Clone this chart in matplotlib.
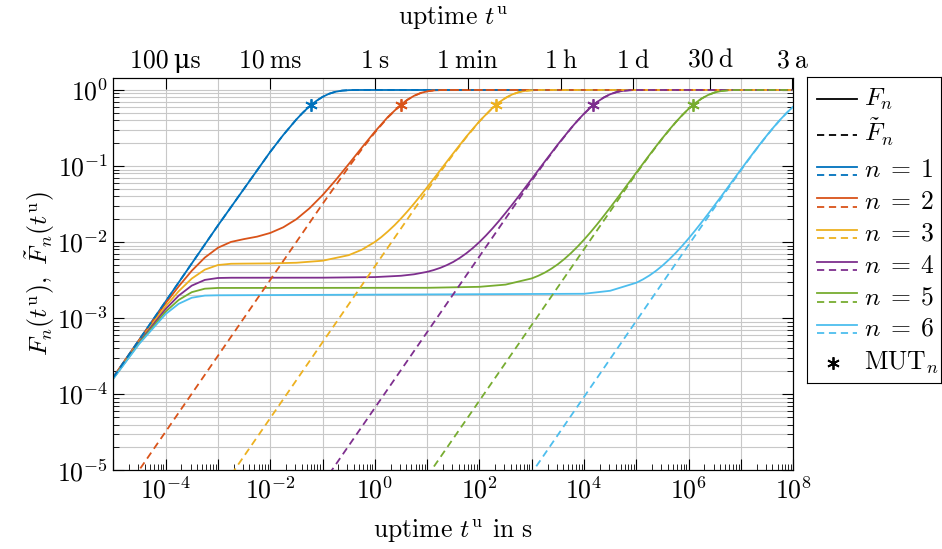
import numpy as np
import matplotlib
matplotlib.use("Agg")
import matplotlib.pyplot as plt
from matplotlib.lines import Line2D
from matplotlib.ticker import LogLocator, NullFormatter, NullLocator

plt.rcParams['font.family'] = ['cmr10', 'DejaVu Serif']
plt.rcParams['mathtext.fontset'] = 'cm'
plt.rcParams['axes.formatter.use_mathtext'] = True
plt.rcParams['font.size'] = 18.5

# colours of n = 1..6
colors = ['#0072BD', '#D95319', '#EDB120', '#7E2F8E', '#77AC30', '#4DBEEE']

# F_n (solid)
t_f1 = [1e-5, 1e-3, 1e-2, 1.78e-2, 3.16e-2, 4.2e-2, 5.62e-2, 7.5e-2, 0.1, 0.133, 0.178, 0.237, 0.316,
        0.42, 0.562, 1.0, 1e8]
f1 = [1.667e-4, 0.01653, 0.1535, 0.2567, 0.4096, 0.5034, 0.6082, 0.7135, 0.8111, 0.8911, 0.9486, 0.9807,
      0.99486, 0.99909, 0.99991, 1.0, 1.0]

t_f2 = [1e-5, 3.16e-5, 1e-4, 1.78e-4, 3.16e-4, 5.62e-4, 1e-3, 1.78e-3, 3.16e-3, 5.62e-3, 1e-2,
        1.78e-2, 3.16e-2, 5.62e-2, 0.1, 0.178, 0.316, 0.562, 1.0, 1.78, 3.16, 4.2, 5.62, 7.5, 10, 13.3,
        17.8, 23.7, 31.6, 1e8]
f2 = [1.685e-4, 5.23e-4, 1.567e-3, 2.62e-3, 4.20e-3, 6.26e-3, 8.43e-3, 0.01006, 0.01096, 0.01180, 0.01319,
      0.01567, 0.0200, 0.0278, 0.0414, 0.0652, 0.1059, 0.1741, 0.2829, 0.4424, 0.6426, 0.7446, 0.8384,
      0.9119, 0.9607, 0.98644, 0.99682, 0.99952, 0.99996, 1.0]

t_f3 = [1e-5, 3.16e-5, 1e-4, 1.78e-4, 3.16e-4, 5.62e-4, 1e-3, 1.78e-3, 3.16e-3, 1e-2, 3.16e-2, 0.1,
        0.316, 0.562, 1.0, 1.33, 1.78, 2.37, 3.16, 4.22, 5.62, 7.5, 10, 17.8, 31.6, 56.2, 100, 178, 237,
        316, 420, 562, 750, 1000, 1330, 1780, 3160, 1e8]
f3 = [1.640e-4, 5.01e-4, 1.426e-3, 2.262e-3, 3.314e-3, 4.344e-3, 4.994e-3, 5.192e-3, 5.215e-3, 5.249e-3,
      5.354e-3, 5.69e-3, 6.73e-3, 7.93e-3, 0.01004, 0.01164, 0.01383, 0.01663, 0.0204, 0.02547, 0.0321,
      0.04094, 0.0526, 0.0880, 0.1473, 0.2438, 0.389, 0.5825, 0.6869, 0.787, 0.8718, 0.9358, 0.9743,
      0.9924, 0.99848, 0.99983, 1.0, 1.0]

t_f4 = [1e-5, 3.16e-5, 1e-4, 1.78e-4, 3.16e-4, 5.62e-4, 1e-3, 1.78e-3, 0.1, 1.0, 3.16, 5.62, 10, 13.3,
        17.8, 23.7, 31.6, 42.2, 56.2, 75, 100, 133, 178, 237, 316, 420, 562, 1000, 1780, 3160, 5620, 7500,
        1e4, 1.33e4, 1.78e4, 2.37e4, 3.16e4, 4.22e4, 5.62e4, 7.5e4, 1e5, 1.78e5, 1e8]
f4 = [1.626e-4, 4.87e-4, 1.317e-3, 1.979e-3, 2.678e-3, 3.184e-3, 3.375e-3, 3.40e-3, 3.407e-3, 3.467e-3,
      3.61e-3, 3.774e-3, 4.065e-3, 4.287e-3, 4.583e-3, 4.977e-3, 5.49e-3, 6.204e-3, 7.13e-3, 8.371e-3,
      0.01002, 0.01220, 0.01516, 0.01903, 0.0242, 0.03092, 0.0401, 0.0677, 0.1149, 0.1928, 0.3149,
      0.3956, 0.4883, 0.5894, 0.6958, 0.7947, 0.8788, 0.9402, 0.9765, 0.99328, 0.99873, 1.0, 1.0]

t_f5 = [1e-5, 3.16e-5, 1e-4, 1.78e-4, 3.16e-4, 5.62e-4, 1e-3, 10, 100, 316, 1000, 1330, 1780, 2370, 3160,
        4220, 5620, 7500, 1e4, 1.33e4, 1.78e4, 2.37e4, 3.16e4, 4.22e4, 5.62e4, 7.5e4, 1e5, 1.33e5, 1.78e5,
        2.37e5, 3.16e5, 4.22e5, 5.62e5, 7.5e5, 1e6, 1.33e6, 1.78e6, 2.37e6, 3.16e6, 4.22e6, 5.62e6, 7.5e6,
        1e7, 1.78e7, 1e8]
f5 = [1.613e-4, 4.75e-4, 1.217e-3, 1.737e-3, 2.196e-3, 2.441e-3, 2.497e-3, 2.508e-3, 2.583e-3, 2.762e-3,
      3.331e-3, 3.605e-3, 3.976e-3, 4.470e-3, 5.123e-3, 6.008e-3, 7.17e-3, 8.715e-3, 0.01078, 0.01349,
      0.01718, 0.02201, 0.02842, 0.03697, 0.0482, 0.06294, 0.0823, 0.1071, 0.1401, 0.1813, 0.2335, 0.2983,
      0.3756, 0.4660, 0.5665, 0.6711, 0.7737, 0.8615, 0.9284, 0.9704, 0.99077, 0.99807, 0.99976, 1.0, 1.0]

t_f6 = [1e-5, 3.16e-5, 1e-4, 1.78e-4, 3.16e-4, 5.62e-4, 1e-3, 1e4, 3.16e4, 1e5, 1.33e5, 1.78e5, 2.37e5,
        3.16e5, 4.22e5, 5.62e5, 7.5e5, 1e6, 1.33e6, 1.78e6, 2.37e6, 3.16e6, 4.22e6, 5.62e6, 7.5e6, 1e7,
        1.33e7, 1.78e7, 2.37e7, 3.16e7, 4.22e7, 5.62e7, 7.5e7, 1e8]
f6 = [1.600e-4, 4.63e-4, 1.131e-3, 1.546e-3, 1.856e-3, 1.982e-3, 2.0e-3, 2.093e-3, 2.292e-3, 2.924e-3,
      3.229e-3, 3.645e-3, 4.19e-3, 4.916e-3, 5.90e-3, 7.18e-3, 8.91e-3, 0.01120, 0.01422, 0.01831,
      0.02366, 0.03078, 0.04024, 0.05261, 0.06896, 0.0903, 0.1176, 0.1536, 0.1986, 0.2552, 0.3248,
      0.4069, 0.5017, 0.6047]

# F~_n (dashed); F~_1 equals F_1
t_ft2 = [1e-5, 0.1, 0.316, 0.562, 1.0, 1.78, 3.16, 4.2, 5.62, 7.5, 10, 13.3, 17.8, 23.7, 31.6, 1e8]
ft2 = [3.23e-6, 0.0317, 0.0969, 0.1658, 0.2757, 0.4368, 0.639, 0.742, 0.8368, 0.9110, 0.9603, 0.9863,
       0.99679, 0.99952, 0.99996, 1.0]
t_ft3 = [1e-3, 10, 17.8, 31.6, 56.2, 100, 178, 237, 316, 420, 562, 750, 1000, 1330, 1780, 3160, 1e8]
ft3 = [4.88e-6, 0.0476, 0.0832, 0.1428, 0.2398, 0.386, 0.5803, 0.6853, 0.786, 0.8711, 0.9355, 0.9742,
       0.9924, 0.99848, 0.99983, 1.0, 1.0]
t_ft4 = [0.1, 1000, 1780, 3160, 5620, 7500, 1e4, 1.33e4, 1.78e4, 2.37e4, 3.16e4, 4.22e4, 5.62e4, 7.5e4,
         1e5, 1.78e5, 1e8]
ft4 = [6.67e-6, 0.0645, 0.1119, 0.1900, 0.3126, 0.3935, 0.4866, 0.5880, 0.6948, 0.7940, 0.8784, 0.9400,
       0.9764, 0.99326, 0.99873, 1.0, 1.0]
t_ft5 = [10, 1e5, 1.78e5, 3.16e5, 5.62e5, 7.5e5, 1e6, 1.33e6, 1.78e6, 2.37e6, 3.16e6, 4.22e6, 5.62e6,
         7.5e6, 1e7, 1.78e7, 1e8]
ft5 = [8.33e-6, 0.0800, 0.1379, 0.2316, 0.3740, 0.4647, 0.5654, 0.6703, 0.7731, 0.8612, 0.9282, 0.9703,
       0.99075, 0.99807, 0.99976, 1.0, 1.0]
t_ft6 = [500, 1e6, 3.16e6, 1e7, 1.33e7, 1.78e7, 2.37e7, 3.16e7, 4.22e7, 5.62e7, 7.5e7, 1e8]
ft6 = [4.63e-6, 9.22e-3, 0.02884, 0.0884, 0.1158, 0.1519, 0.1970, 0.2537, 0.3234, 0.4057, 0.5007, 0.6039]

# mean up times and F_n at MUT_n
mut = [0.06, 3.1, 205, 1.5e4, 1.2e6, 1.08e8]
mut_F = [0.632, 0.636, 0.634, 0.633, 0.633, 0.633]

xtick_vals = [1e-5, 1e-4, 1e-3, 1e-2, 1e-1, 1e0, 1e1, 1e2, 1e3, 1e4, 1e5, 1e6, 1e7, 1e8]
xtick_labels = ['', r'$10^{-4}$', '', r'$10^{-2}$', '', r'$10^{0}$', '', r'$10^{2}$', '',
                r'$10^{4}$', '', r'$10^{6}$', '', r'$10^{8}$']
ytick_vals = [1e-5, 1e-4, 1e-3, 1e-2, 1e-1, 1e0]
ytick_labels = [r'$10^{-5}$', r'$10^{-4}$', r'$10^{-3}$', r'$10^{-2}$', r'$10^{-1}$', r'$10^{0}$']
top_vals = [1e-4, 1e-2, 1.0, 60.0, 3600.0, 86400.0, 2592000.0, 94672800.0]
top_labels = ['100\u2009\u03bcs', '10\u2009ms', '1\u2009s', '1\u2009min', '1\u2009h', '1\u2009d',
              '30\u2009d', '3\u2009a']

legend_labels = [r'$F_n$', r'$\tilde{F}_n$'] + [r'$n\;=\;%d$' % k for k in range(1, 7)] + [r'$\mathrm{MUT}_n$']

solid = [(t_f1, f1), (t_f2, f2), (t_f3, f3), (t_f4, f4), (t_f5, f5), (t_f6, f6)]
dashed = [(t_f1, f1), (t_ft2, ft2), (t_ft3, ft3), (t_ft4, ft4), (t_ft5, ft5), (t_ft6, ft6)]

LW = 1.3
DASH = (4, 2.6)
STAR = (6, 2, 0)

W, H = 942, 549
fig = plt.figure(figsize=(W / 100, H / 100), dpi=100)
ax = fig.add_axes([113.3 / W, 1 - 470.3 / H, 680 / W, 392.6 / H])
ax.set_xscale('log')
ax.set_yscale('log')
ax.set_xlim(1e-5, 1e8)
ax.set_ylim(1e-5, 1.45)

for (t, f), c in zip(solid, colors):
    ax.plot(t, f, color=c, lw=LW, zorder=3)
for (t, f), c in zip(dashed, colors):
    ax.plot(t, f, color=c, lw=LW, dashes=DASH, zorder=4)
for m, mf, c in zip(mut, mut_F, colors):
    if m <= 1e8:
        ax.plot([m], [mf], marker=STAR, color=c, ms=9, mew=1.3, ls='none', zorder=5)

ax.set_xticks(xtick_vals, labels=xtick_labels)
ax.set_yticks(ytick_vals, labels=ytick_labels)
ax.xaxis.set_minor_locator(LogLocator(base=10, subs=np.arange(2, 10), numticks=30))
ax.xaxis.set_minor_formatter(NullFormatter())
ax.yaxis.set_minor_locator(LogLocator(base=10, subs=np.arange(2, 10), numticks=30))
ax.yaxis.set_minor_formatter(NullFormatter())
ax.grid(which='major', color='#c8c8c8', lw=0.8)
ax.grid(which='minor', axis='y', color='#c8c8c8', lw=0.8)
ax.set_axisbelow(True)
ax.tick_params(which='major', direction='in', length=8, width=0.8, top=False, right=True)
ax.tick_params(which='minor', direction='in', length=4.5, width=0.6, top=False, right=True)
ax.tick_params(axis='x', which='major', pad=5)
ax.set_xlabel('uptime $t^{\\mathrm{u}}$ in s', labelpad=10)
ax.set_ylabel(r'$F_n(t^{\mathrm{u}}),\ \tilde{F}_n(t^{\mathrm{u}})$', labelpad=0)

# upper axis in time units
ax2 = ax.twiny()
ax2.set_xscale('log')
ax2.set_xlim(ax.get_xlim())
ax2.set_xticks(top_vals, labels=top_labels)
ax2.xaxis.set_minor_locator(NullLocator())
ax2.tick_params(axis='x', direction='in', length=8, width=0.8)
ax2.set_xlabel('uptime $t^{\\mathrm{u}}$', labelpad=17)

# legend box drawn by hand (pixel coordinates)
lx0, lx1, ly0, ly1 = 807.3, 941.0, 77.3, 383.3
lax = fig.add_axes([lx0 / W, 1 - ly1 / H, (lx1 - lx0) / W, (ly1 - ly0) / H])
lax.set_xlim(lx0, lx1)
lax.set_ylim(ly1, ly0)
lax.set_xticks([])
lax.set_yticks([])
for s in lax.spines.values():
    s.set_linewidth(0.8)
    s.set_color('k')

row_y = [99.3, 135.0, 170.7, 202.5, 234.0, 266.0, 297.5, 329.0, 363.3]
hx = [816.7, 857.0]
tx = 864.0
lax.plot(hx, [row_y[0]] * 2, color='k', lw=LW)
lax.plot(hx, [row_y[1]] * 2, color='k', lw=LW, dashes=DASH)
for c, y in zip(colors, row_y[2:8]):
    lax.plot(hx, [y - 4.2] * 2, color=c, lw=LW)
    lax.plot(hx, [y + 4.2] * 2, color=c, lw=LW, dashes=DASH)
lax.plot([833.0], [row_y[8]], marker=STAR, color='k', ms=9, mew=1.3, ls='none')
for lab, y in zip(legend_labels, row_y):
    lax.text(tx, y + 6.5, lab, va='baseline', ha='left')

fig.savefig('out.png', dpi=100)
